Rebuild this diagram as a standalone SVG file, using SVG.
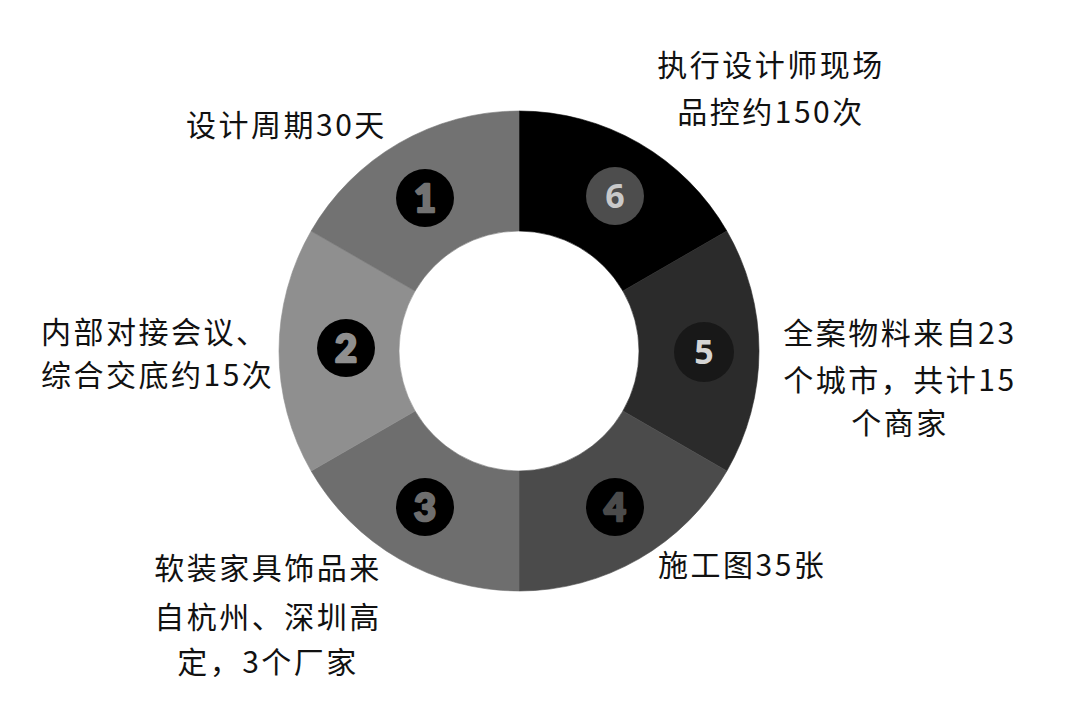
<svg xmlns="http://www.w3.org/2000/svg" width="1080" height="701" viewBox="0 0 1080 701">
<style>
.lbl{font-family:"Noto Sans CJK SC","Noto Sans",sans-serif;font-size:30px;letter-spacing:2.5px;fill:#111;}
.num{font-family:Lato,"Liberation Sans",sans-serif;font-weight:900;font-size:38px;text-anchor:middle;stroke-width:2.5;stroke-linejoin:round;}
.num2{font-family:"Open Sans","Liberation Sans",sans-serif;font-weight:700;font-size:34px;text-anchor:middle;}
</style>
<rect width="1080" height="701" fill="#fff"/>
<g id="ring">
<path id="seg6" d="M519,111 A240,240 0 0 1 726.85,231 L622.92,291 A120,120 0 0 0 519,231 Z" fill="#000" stroke="#000" stroke-width="0.6"/>
<path id="seg5" d="M726.85,231 A240,240 0 0 1 726.85,471 L622.92,411 A120,120 0 0 0 622.92,291 Z" fill="#2b2b2b" stroke="#2b2b2b" stroke-width="0.6"/>
<path id="seg4" d="M726.85,471 A240,240 0 0 1 519,591 L519,471 A120,120 0 0 0 622.92,411 Z" fill="#4b4b4b" stroke="#4b4b4b" stroke-width="0.6"/>
<path id="seg3" d="M519,591 A240,240 0 0 1 311.15,471 L415.08,411 A120,120 0 0 0 519,471 Z" fill="#6e6e6e" stroke="#6e6e6e" stroke-width="0.6"/>
<path id="seg2" d="M311.15,471 A240,240 0 0 1 311.15,231 L415.08,291 A120,120 0 0 0 415.08,411 Z" fill="#8f8f8f" stroke="#8f8f8f" stroke-width="0.6"/>
<path id="seg1" d="M311.15,231 A240,240 0 0 1 519,111 L519,231 A120,120 0 0 0 415.08,291 Z" fill="#727272" stroke="#727272" stroke-width="0.6"/>
</g>
<g id="badge1"><circle cx="425" cy="198" r="29" fill="#000"/><text class="num" x="425" y="212" fill="#727272" stroke="#727272">1</text></g>
<g id="badge2"><circle cx="346" cy="348" r="29" fill="#000"/><text class="num" x="346" y="362" fill="#8f8f8f" stroke="#8f8f8f">2</text></g>
<g id="badge3"><circle cx="425" cy="507" r="29" fill="#000"/><text class="num" x="425" y="521" fill="#6e6e6e" stroke="#6e6e6e">3</text></g>
<g id="badge4"><circle cx="615" cy="507" r="29" fill="#000"/><text class="num" x="615" y="521" fill="#4b4b4b" stroke="#4b4b4b">4</text></g>
<g id="badge5"><circle cx="704" cy="352" r="30" fill="#181818"/><text class="num2" x="704" y="364" fill="#d5d5d5">5</text></g>
<g id="badge6"><circle cx="615" cy="196" r="29" fill="#4d4d4d"/><text class="num2" x="615" y="208" fill="#c9c9c9">6</text></g>
<g id="label1"><text class="lbl" x="186" y="136">设计周期30天</text></g>
<g id="label6"><text class="lbl" x="771" y="76" text-anchor="middle">执行设计师现场</text><text class="lbl" x="771" y="123" text-anchor="middle">品控约150次</text></g>
<g id="label2"><text class="lbl" x="41" y="343">内部对接会议、</text><text class="lbl" x="41" y="386">综合交底约15次</text></g>
<g id="label5"><text class="lbl" x="900" y="344" text-anchor="middle">全案物料来自23</text><text class="lbl" x="900" y="391" text-anchor="middle">个城市，共计15</text><text class="lbl" x="900" y="434" text-anchor="middle">个商家</text></g>
<g id="label3"><text class="lbl" x="268" y="579" text-anchor="middle">软装家具饰品来</text><text class="lbl" x="268" y="628" text-anchor="middle">自杭州、深圳高</text><text class="lbl" x="268" y="673" text-anchor="middle">定，3个厂家</text></g>
<g id="label4"><text class="lbl" x="658" y="576">施工图35张</text></g>
</svg>
